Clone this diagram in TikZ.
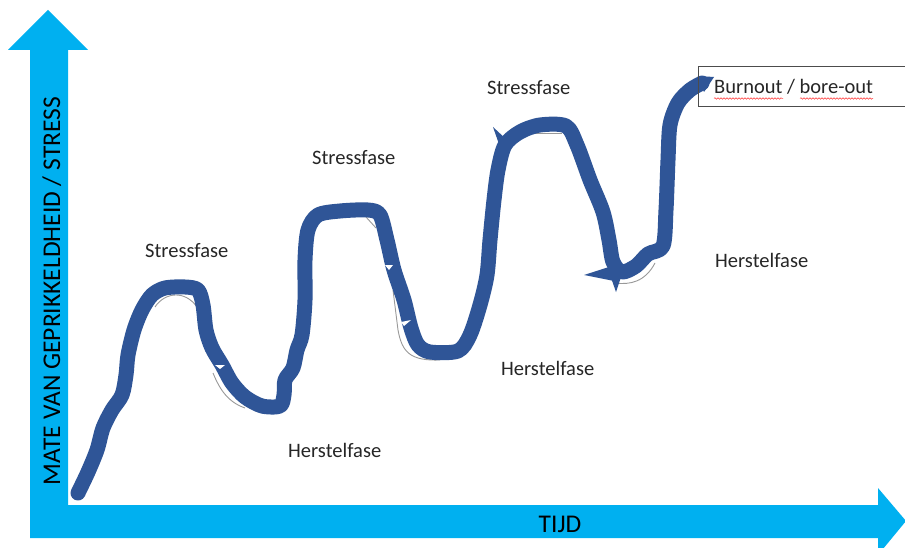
\documentclass[tikz,border=0pt]{standalone}
\usepackage{fontspec}
\setmainfont{Carlito}
\usepackage{tikz}
\usetikzlibrary{arrows.meta, decorations.pathmorphing}
\definecolor{axisblue}{HTML}{00B0F0}
\definecolor{curveblue}{HTML}{2F5597}
\definecolor{textgray}{HTML}{262626}
\tikzset{
  % axes
  axisfill/.style={fill=axisblue, draw=none},
  axislabel/.style={font=\fontsize{25.5}{30}\selectfont, text=black, inner sep=0pt},
  % stress curve
  stresscurve/.style={draw=curveblue, line width=15pt, line join=round, line cap=round},
  shadowline/.style={draw=gray!80, line width=0.9pt},
  spike/.style={fill=curveblue, draw=none},
  notch/.style={fill=white, draw=none},
  % labels
  phase/.style={font=\fontsize{20.5}{24}\selectfont, text=textgray, inner sep=0pt, anchor=base west},
  endbox/.style={draw=black!70, line width=0.8pt},
  spellmark/.style={draw=red!80, line width=0.5pt,
    decorate, decoration={snake, amplitude=0.8pt, segment length=3pt}},
}

\begin{document}
\begin{tikzpicture}[x=1pt, y=-1pt]

  \clip (0,0) rectangle (905,548);
  \fill[white] (0,0) rectangle (905,548);

  % axes (one L-shaped arrow outline)
  \fill[axisfill] (30,538) -- (30,50) -- (8,50) -- (48,10) -- (88,50) -- (68,50)
    -- (68,505) -- (878,505) -- (878,488) -- (906,521) -- (878,555) -- (878,538) -- cycle;
  \node[axislabel, rotate=90, anchor=base] (ylabel) at (60,291) {MATE VAN GEPRIKKELDHEID / STRESS};
  \node[axislabel, anchor=base] (xlabel) at (560,532) {TIJD};

  % thin original line, partly visible beside the thick one
  \draw[shadowline] (155,307) .. controls (165,292) and (185,290) .. (197,307);
  \draw[shadowline] (213,373) .. controls (220,390) and (228,402) .. (245,408);
  \draw[shadowline] (366,217) -- (376,228);
  \draw[shadowline] (393,290) -- (398,330) .. controls (402,352) and (410,361) .. (440,360);
  \draw[shadowline] (535,133) -- (562,133);
  \draw[shadowline] (615,283) .. controls (630,285) and (645,282) .. (655,263);

  % stress curve
  \draw[stresscurve] plot[smooth, tension=0.5] coordinates {
    (78,493) (88,472) (97,450) (103,428) (112,410) (122,395) (126,375) (128,355)
    (134,330) (142,310) (152,295) (165,288) (185,287) (198,290) (203,305) (206,330)
    (212,348) (222,365) (232,383) (245,397) (262,406) (280,406) (284,395) (285,380)
    (293,368) (297,350) (302,335) (305,300) (305,260) (308,230) (318,215) (340,211)
    (368,210) (380,215) (387,240) (394,270) (404,300) (411,328) (418,345) (430,352)
    (458,351) (470,335) (480,305) (487,275) (490,240) (494,200) (498,170) (505,145)
    (520,132) (540,125) (566,126) (577,145) (590,180) (603,212) (609,240) (613,262)
    (622,272) (636,266) (648,254) (663,246) (666,210) (668,160) (670,125) (678,103)
    (690,90) (702,83)};
  \fill[spike] (698,76) -- (714,77) -- (704,92) -- cycle;
  \fill[spike] (493,127) -- (500,147) -- (507,140) -- cycle;
  \fill[spike] (584,275) -- (612,266) -- (614,281) -- cycle;
  \fill[spike] (616,292) -- (609,272) -- (622,274) -- cycle;
  \fill[notch] (385,265) -- (393,265) -- (389,270) -- cycle;
  \fill[notch] (401,322) -- (411,320) -- (404,326) -- cycle;
  \fill[notch] (215,365) -- (225,365) -- (220,369) -- cycle;

  % phase labels
  \node[phase] (stress1) at (145,258) {Stressfase};
  \node[phase] (stress2) at (312,165) {Stressfase};
  \node[phase] (stress3) at (487,95) {Stressfase};
  \node[phase] (herstel1) at (288,457) {Herstelfase};
  \node[phase] (herstel2) at (501,375) {Herstelfase};
  \node[phase] (herstel3) at (715,268) {Herstelfase};

  % end box
  \draw[endbox] (698,66) rectangle (912,106);
  \node[phase] (burnout) at (714,94) {Burnout / bore-out};
  \draw[spellmark] (714,98.5) -- (783,98.5);
  \draw[spellmark] (800,98.5) -- (873,98.5);

\end{tikzpicture}
\end{document}
